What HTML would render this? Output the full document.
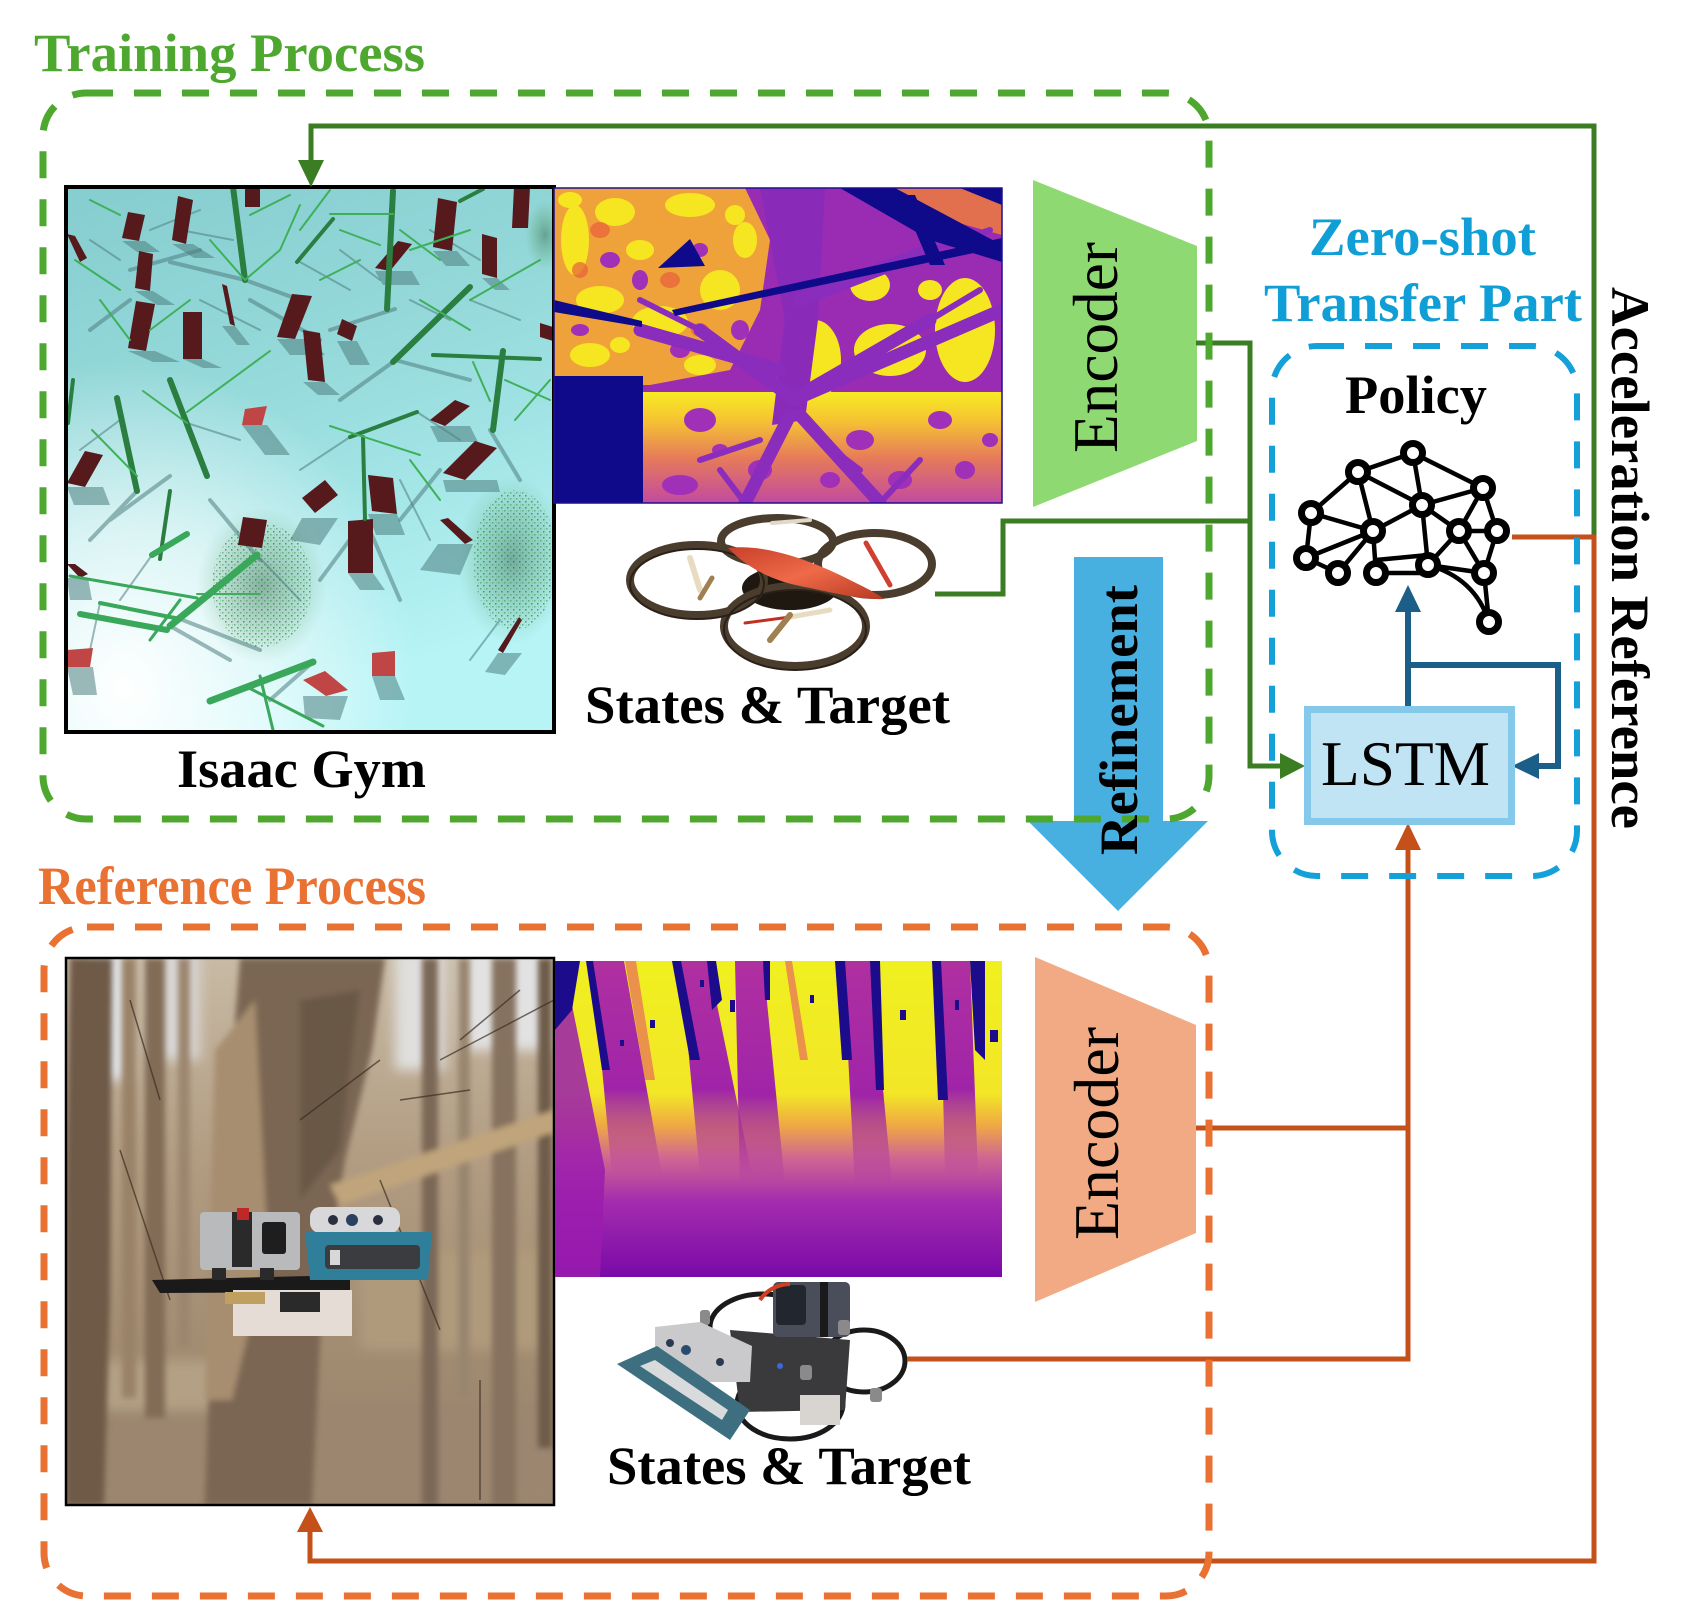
<!DOCTYPE html>
<html><head><meta charset="utf-8"><style>
html,body{margin:0;padding:0;background:#fff;}
svg{display:block;}
text{font-family:"Liberation Serif","Times New Roman",serif;}
</style></head><body>
<svg width="1698" height="1600" viewBox="0 0 1698 1600" xmlns="http://www.w3.org/2000/svg">
<defs>
  <linearGradient id="isaacG" x1="0" y1="0" x2="0.3" y2="1">
    <stop offset="0" stop-color="#86cdcf"/>
    <stop offset="0.45" stop-color="#96dadb"/>
    <stop offset="1" stop-color="#b6f4f6"/>
  </linearGradient>
  <radialGradient id="isaacW" cx="0.12" cy="0.92" r="0.6">
    <stop offset="0" stop-color="#ffffff" stop-opacity="1"/>
    <stop offset="0.5" stop-color="#ffffff" stop-opacity="0.6"/>
    <stop offset="1" stop-color="#ffffff" stop-opacity="0"/>
  </radialGradient>
  <radialGradient id="foli" cx="0.5" cy="0.5" r="0.5">
    <stop offset="0" stop-color="#3a6a50" stop-opacity="0.5"/>
    <stop offset="0.6" stop-color="#5aa070" stop-opacity="0.28"/>
    <stop offset="1" stop-color="#6ab080" stop-opacity="0"/>
  </radialGradient>
  <pattern id="speck" width="6" height="6" patternUnits="userSpaceOnUse">
    <rect x="0" y="0" width="1.5" height="1.5" fill="#2f8a48"/>
    <rect x="3" y="3" width="1.5" height="1.5" fill="#1f4a38"/>
    <rect x="4" y="0.5" width="1" height="1" fill="#4fb060"/>
  </pattern>
  <linearGradient id="d1band" x1="0" y1="0" x2="0" y2="1">
    <stop offset="0" stop-color="#f6ec22"/>
    <stop offset="0.25" stop-color="#f6c432"/>
    <stop offset="0.6" stop-color="#e67a5a"/>
    <stop offset="1" stop-color="#c24aa0"/>
  </linearGradient>
  <linearGradient id="d2base" x1="0" y1="0" x2="0" y2="1">
    <stop offset="0" stop-color="#f0f020"/>
    <stop offset="0.42" stop-color="#f2e626"/>
    <stop offset="0.52" stop-color="#f0a844"/>
    <stop offset="0.62" stop-color="#d06890"/>
    <stop offset="0.76" stop-color="#a42cae"/>
    <stop offset="1" stop-color="#7a0aa8"/>
  </linearGradient>
  <linearGradient id="d2trunk" x1="0" y1="0" x2="0" y2="1">
    <stop offset="0" stop-color="#b030a0"/>
    <stop offset="0.6" stop-color="#a024a8"/>
    <stop offset="1" stop-color="#9a1cae" stop-opacity="0"/>
  </linearGradient>
  <linearGradient id="forestG" x1="0" y1="0" x2="0" y2="1">
    <stop offset="0" stop-color="#c8baa4"/>
    <stop offset="0.4" stop-color="#b09a80"/>
    <stop offset="0.75" stop-color="#a08a70"/>
    <stop offset="1" stop-color="#988470"/>
  </linearGradient>
  <linearGradient id="hull" x1="0" y1="0" x2="1" y2="1">
    <stop offset="0" stop-color="#c8402a"/>
    <stop offset="0.5" stop-color="#ee6a48"/>
    <stop offset="1" stop-color="#b83a24"/>
  </linearGradient>
  <clipPath id="cIsaac"><rect x="66" y="187" width="488" height="545"/></clipPath>
  <clipPath id="cD1"><rect x="554" y="188" width="448" height="315"/></clipPath>
  <clipPath id="cD2"><rect x="555" y="961" width="447" height="316"/></clipPath>
  <clipPath id="cF"><rect x="66" y="958" width="488" height="547"/></clipPath>
  <filter id="bl2" x="-10%" y="-10%" width="120%" height="120%"><feGaussianBlur stdDeviation="3"/></filter>
  <filter id="bl4" x="-20%" y="-20%" width="140%" height="140%"><feGaussianBlur stdDeviation="6"/></filter>
</defs>

<!-- ============ ISAAC GYM IMAGE ============ -->
<g clip-path="url(#cIsaac)">
  <rect x="66" y="187" width="488" height="545" fill="url(#isaacG)"/>
  <rect x="66" y="187" width="488" height="545" fill="url(#isaacW)"/>
  <!-- foliage -->
  <ellipse cx="262" cy="585" rx="65" ry="78" fill="url(#foli)"/>
  <ellipse cx="262" cy="585" rx="50" ry="62" fill="url(#speck)" opacity="0.55"/>
  <ellipse cx="512" cy="560" rx="55" ry="85" fill="url(#foli)"/>
  <ellipse cx="515" cy="560" rx="42" ry="70" fill="url(#speck)" opacity="0.55"/>
  <ellipse cx="545" cy="235" rx="20" ry="35" fill="url(#foli)"/>
  <!-- shadows -->
  <g stroke="#4f7e80" stroke-opacity="0.55" stroke-linecap="round" fill="none">
    <path d="M245 280 L170 262 M245 280 L300 300 M200 250 L130 270 M395 309 L330 330 M393 362 L340 400 M395 360 L470 380 M170 476 L110 520 M137 491 L90 540 M210 500 L260 560 M365 519 L320 580 M365 519 L400 600 M170 626 L230 660 M180 619 L260 650 M313 662 L270 700 M490 430 L520 480 M440 470 L400 520 M250 300 L320 340 M130 300 L90 330" stroke-width="4"/>
    <path d="M233 240 L180 230 M300 262 L350 290 M410 300 L450 320 M470 300 L520 320 M120 420 L80 450 M187 423 L240 440 M350 437 L300 470 M417 412 L460 440 M152 555 L120 600 M257 555 L300 600 M100 603 L90 650 M400 480 L430 540 M500 620 L470 660 M120 260 L90 240 M200 300 L260 330 M340 250 L380 280 M430 230 L480 260 M150 230 L200 210" stroke-width="2"/>
  </g>
  <!-- red blocks with shadows -->
  <g fill="#4f7f80" fill-opacity="0.55">
    <polygon points="172,244 193,244 215,258 194,258"/>
    <polygon points="122,241 145,241 160,252 137,252"/>
    <polygon points="135,291 153,291 175,305 157,305"/>
    <polygon points="128,351 155,351 180,362 153,362"/>
    <polygon points="183,359 202,359 222,368 203,368"/>
    <polygon points="222,326 235,326 250,345 237,345"/>
    <polygon points="277,339 312,339 325,355 290,355"/>
    <polygon points="303,382 325,382 340,395 318,395"/>
    <polygon points="337,341 357,341 370,365 350,365"/>
    <polygon points="433,251 457,251 470,266 446,266"/>
    <polygon points="482,278 497,278 510,290 495,290"/>
    <polygon points="375,271 412,271 420,285 383,285"/>
    <polygon points="430,426 470,426 478,442 438,442"/>
    <polygon points="443,480 497,480 500,492 446,492"/>
    <polygon points="67,487 103,487 110,505 74,505"/>
    <polygon points="242,425 267,425 290,455 265,455"/>
    <polygon points="302,518 338,518 320,545 290,540"/>
    <polygon points="368,514 397,514 405,535 376,535"/>
    <polygon points="348,573 373,573 385,590 360,590"/>
    <polygon points="438,544 473,544 460,575 420,570"/>
    <polygon points="67,578 88,578 92,600 70,600"/>
    <polygon points="67,667 93,667 97,695 73,695"/>
    <polygon points="303,696 348,696 340,720 305,718"/>
    <polygon points="372,676 395,676 405,700 380,700"/>
    <polygon points="498,653 522,653 505,675 485,672"/>
  </g>
  <g fill="#561a1c">
    <polygon points="178,196 193,200 186,244 172,240"/>
    <polygon points="128,212 145,215 139,241 122,238"/>
    <polygon points="139,251 153,254 150,291 135,288"/>
    <polygon points="136,301 155,304 146,351 128,348"/>
    <polygon points="183,312 202,312 202,359 183,359"/>
    <polygon points="222,284 227,286 235,326 230,324"/>
    <polygon points="292,294 312,296 295,339 277,337"/>
    <polygon points="303,330 320,333 325,382 308,380"/>
    <polygon points="342,319 357,326 352,341 337,334"/>
    <polygon points="245,187 260,187 260,207 245,207"/>
    <polygon points="438,198 457,202 452,251 433,247"/>
    <polygon points="482,234 497,238 497,278 482,274"/>
    <polygon points="514,187 530,187 528,228 512,228"/>
    <polygon points="398,241 412,244 390,271 375,268"/>
    <polygon points="455,400 470,406 445,426 430,420"/>
    <polygon points="475,441 497,448 465,480 443,473"/>
    <polygon points="85,451 103,455 85,487 67,483"/>
    <polygon points="302,498 325,480 338,495 315,513"/>
    <polygon points="368,475 393,478 397,514 372,511"/>
    <polygon points="348,521 373,519 373,573 348,573"/>
    <polygon points="243,517 267,520 262,548 238,545"/>
    <polygon points="440,520 448,518 473,540 465,544"/>
    <polygon points="67,564 75,564 88,574 80,578"/>
    <polygon points="519,617 522,620 503,653 498,650"/>
    <polygon points="540,323 553,327 553,341 540,337"/>
    <polygon points="67,234 75,236 87,258 80,262"/>
  </g>
  <g fill="#c04646">
    <polygon points="245,409 267,406 262,425 242,425"/>
    <polygon points="67,650 93,648 90,667 67,667"/>
    <polygon points="303,680 325,671 348,690 326,696"/>
    <polygon points="372,653 395,651 395,676 372,676"/>
  </g>
  <!-- green branches -->
  <g stroke="#2a7e40" stroke-linecap="round" fill="none">
    <path d="M233 187 L245 280 M393 191 L387 309 M170 380 L207 476 M117 398 L137 491 M503 351 L493 430 M393 362 L470 287" stroke-width="6"/>
    <path d="M297 262 L333 219 M350 437 L417 412 M363 437 L365 519 M73 380 L68 423 M460 201 L483 189 M433 355 L540 359 M160 559 L170 491" stroke-width="4"/>
    <path d="M330 214 L393 214 M245 280 L210 240 M245 280 L280 250 M280 250 L300 205 M340 230 L380 245 M400 230 L440 260 M410 250 L470 230 M143 391 L187 423 M187 412 L270 351 M92 430 L137 476 M330 426 L420 455 M197 594 L260 594 M473 362 L490 401 M505 380 L550 400 M470 300 L540 260 M420 300 L470 330 M300 230 L330 190 M90 200 L120 215 M75 260 L120 290 M515 420 L550 380 M410 460 L440 500 M250 215 L290 195 M320 280 L360 260 M150 330 L190 300 M100 300 L130 340" stroke-width="2" stroke="#3fb05a"/>
  </g>
  <g stroke="#3aa85a" stroke-linecap="round" fill="none">
    <path d="M170 626 L257 555 M210 701 L313 662" stroke-width="7"/>
    <path d="M152 555 L187 534 M80 614 L167 630" stroke-width="6"/>
    <path d="M100 603 L180 619" stroke-width="4"/>
    <path d="M70 576 L197 598 M247 687 L323 726 M260 676 L273 730 M150 640 L180 600" stroke-width="3"/>
  </g>
</g>
<rect x="66" y="187" width="488" height="545" fill="none" stroke="#000" stroke-width="4"/>

<!-- ============ DEPTH IMAGE 1 ============ -->
<g clip-path="url(#cD1)">
  <rect x="554" y="188" width="448" height="315" fill="#9a2cb4"/>
  <polygon points="554,188 745,188 770,240 760,310 730,370 650,385 554,385" fill="#f0a23a"/>
  <g fill="#f6e622">
    <ellipse cx="575" cy="240" rx="14" ry="35"/>
    <ellipse cx="615" cy="212" rx="20" ry="14"/>
    <ellipse cx="690" cy="205" rx="25" ry="12"/>
    <ellipse cx="600" cy="300" rx="24" ry="14"/>
    <ellipse cx="660" cy="322" rx="28" ry="16"/>
    <ellipse cx="720" cy="290" rx="20" ry="20"/>
    <ellipse cx="590" cy="355" rx="20" ry="12"/>
    <ellipse cx="700" cy="365" rx="16" ry="10"/>
    <ellipse cx="640" cy="250" rx="14" ry="10"/>
    <ellipse cx="570" cy="200" rx="12" ry="8"/>
    <ellipse cx="735" cy="215" rx="10" ry="10"/>
    <ellipse cx="620" cy="345" rx="10" ry="8"/>
    <ellipse cx="815" cy="360" rx="26" ry="40"/>
    <ellipse cx="890" cy="350" rx="36" ry="26"/>
    <ellipse cx="965" cy="330" rx="30" ry="52"/>
    <ellipse cx="870" cy="285" rx="20" ry="16"/>
    <ellipse cx="745" cy="240" rx="12" ry="18"/>
    <ellipse cx="930" cy="290" rx="12" ry="10"/>
  </g>
  <g fill="#e8603c" opacity="0.7">
    <ellipse cx="600" cy="230" rx="10" ry="8"/><ellipse cx="670" cy="280" rx="10" ry="8"/>
    <ellipse cx="580" cy="270" rx="8" ry="8"/><ellipse cx="700" cy="330" rx="9" ry="7"/>
  </g>
  <polygon points="880,188 1002,188 1002,235 930,215" fill="#e2704e"/>
  <rect x="643" y="392" width="359" height="111" fill="url(#d1band)"/>
  <g fill="#a030b8">
    <ellipse cx="610" cy="260" rx="10" ry="8"/><ellipse cx="640" cy="280" rx="8" ry="10"/>
    <ellipse cx="700" cy="250" rx="8" ry="7"/><ellipse cx="580" cy="330" rx="9" ry="6"/>
    <ellipse cx="680" cy="350" rx="10" ry="8"/><ellipse cx="740" cy="330" rx="9" ry="10"/>
    <ellipse cx="700" cy="420" rx="16" ry="12"/><ellipse cx="760" cy="470" rx="12" ry="10"/>
    <ellipse cx="860" cy="440" rx="14" ry="10"/><ellipse cx="940" cy="420" rx="12" ry="9"/>
    <ellipse cx="965" cy="470" rx="10" ry="9"/><ellipse cx="680" cy="485" rx="18" ry="10"/>
    <ellipse cx="900" cy="480" rx="12" ry="9"/><ellipse cx="830" cy="480" rx="10" ry="8"/>
    <ellipse cx="720" cy="450" rx="8" ry="6"/><ellipse cx="990" cy="440" rx="8" ry="7"/>
  </g>
  <!-- purple tree -->
  <polygon points="760,188 825,188 818,320 805,420 772,425 785,320" fill="#8a2ab8"/>
  <g stroke="#8a2cbc" stroke-linecap="round" fill="none">
    <path d="M795 400 L700 330 M800 395 L930 320 M805 395 L1002 310 M790 415 L745 503 M800 415 L880 503 M780 370 L640 330 M800 300 L930 250" stroke-width="13"/>
    <path d="M700 330 L640 300 M930 320 L980 290 M745 503 L720 470 M880 503 L920 460 M820 440 L860 470 M760 440 L700 460 M930 250 L990 230" stroke-width="6"/>
  </g>
  <!-- navy -->
  <g fill="#0e0a8a">
    <rect x="554" y="376" width="89" height="127"/>
    <polygon points="658,268 690,239 705,266"/>
    <polygon points="554,300 642,321 642,327 554,312"/>
    <polygon points="672,310 1002,238 1002,247 675,316"/>
    <polygon points="840,188 895,188 1002,245 1002,262 930,240"/>
    <polygon points="900,195 915,195 945,265 930,265"/>
    <polygon points="960,188 1002,188 1002,205"/>
  </g>
</g>
<rect x="554" y="188" width="448" height="315" fill="none" stroke="#1e1090" stroke-width="1.5"/>

<!-- ============ DRONE 1 (AR drone) ============ -->
<g>
  <ellipse cx="790" cy="588" rx="48" ry="22" fill="#1e1810"/>
  <g fill="none" stroke="#4b3d2e" stroke-width="8">
    <ellipse cx="777" cy="541" rx="56" ry="23"/>
    <ellipse cx="697" cy="580" rx="67" ry="35"/>
    <ellipse cx="875" cy="564" rx="57" ry="31"/>
    <ellipse cx="795" cy="626" rx="71" ry="40"/>
  </g>
  <g fill="none" stroke="#2a2018" stroke-width="2">
    <ellipse cx="697" cy="584" rx="67" ry="35"/>
    <ellipse cx="795" cy="630" rx="71" ry="40"/>
  </g>
  <path d="M728 548 C760 544 800 556 840 575 C860 585 875 592 884 599 C860 600 830 592 800 586 C770 580 745 566 728 548 Z" fill="url(#hull)"/>
  <g stroke-linecap="round">
    <line x1="690" y1="558" x2="700" y2="590" stroke="#e8dcc0" stroke-width="6"/>
    <line x1="772" y1="523" x2="810" y2="520" stroke="#e0d8c8" stroke-width="4"/>
    <line x1="866" y1="543" x2="890" y2="585" stroke="#d04030" stroke-width="5"/>
    <line x1="745" y1="623" x2="790" y2="617" stroke="#c03020" stroke-width="3"/>
    <line x1="790" y1="617" x2="830" y2="610" stroke="#e8dcc0" stroke-width="5"/>
    <line x1="770" y1="640" x2="790" y2="615" stroke="#a08050" stroke-width="6"/>
    <line x1="700" y1="598" x2="712" y2="578" stroke="#a08050" stroke-width="5"/>
  </g>
</g>

<!-- ============ FOREST PHOTO ============ -->
<g clip-path="url(#cF)">
  <rect x="66" y="958" width="488" height="547" fill="url(#forestG)"/>
  <g filter="url(#bl4)">
    <rect x="85" y="950" width="45" height="130" fill="#dfe0e4"/>
    <rect x="150" y="950" width="50" height="110" fill="#d8d6d4"/>
    <rect x="395" y="950" width="50" height="120" fill="#e0dfde"/>
    <rect x="460" y="950" width="90" height="100" fill="#e2e2e2"/>
    <rect x="66" y="1400" width="488" height="105" fill="#9c8670"/>
    <rect x="80" y="1360" width="220" height="50" fill="#b4a084"/>
    <rect x="360" y="1250" width="190" height="100" fill="#b09a7c"/>
  </g>
  <g filter="url(#bl2)">
    <polygon points="70,958 112,958 110,1300 104,1505 66,1505 66,1200" fill="#6e5a46"/>
    <rect x="122" y="958" width="14" height="440" fill="#9a8268"/>
    <rect x="145" y="958" width="20" height="460" fill="#826c56"/>
    <rect x="178" y="958" width="12" height="390" fill="#9c8670"/>
    <polygon points="240,958 385,958 372,1050 345,1160 322,1300 312,1505 205,1505 210,1350 225,1150" fill="#7a6652"/>
    <polygon points="215,1050 255,1000 268,1250 232,1400 205,1400" fill="#a88e70"/>
    <polygon points="300,1000 360,990 340,1150 300,1200" fill="#6a5846"/>
    <rect x="422" y="958" width="16" height="547" fill="#7c6856"/>
    <rect x="458" y="958" width="12" height="440" fill="#9a8670"/>
    <rect x="492" y="958" width="24" height="547" fill="#86725e"/>
    <rect x="538" y="958" width="14" height="490" fill="#6e5c4a"/>
    <polygon points="330,1185 554,1110 554,1132 340,1205" fill="#c0a47c"/>
  </g>
  <g stroke="#3a2c22" stroke-width="1.5" fill="none" opacity="0.7">
    <path d="M440 1060 L554 1000 M460 1040 L520 990 M300 1120 L380 1060 M120 1150 L170 1300 M480 1380 L480 1500 M380 1180 L440 1330 M400 1100 L470 1090 M130 1000 L160 1100"/>
  </g>
  <!-- drone in photo -->
  <polygon points="152,1280 350,1275 350,1292 160,1293" fill="#1a1a1a"/>
  <rect x="200" y="1212" width="100" height="58" rx="4" fill="#b9babc"/>
  <rect x="232" y="1212" width="20" height="55" fill="#2a2a2a"/>
  <rect x="237" y="1208" width="12" height="12" fill="#c02828"/>
  <rect x="262" y="1222" width="24" height="32" rx="3" fill="#1e1e1e"/>
  <rect x="310" y="1207" width="90" height="26" rx="10" fill="#d8d8da"/>
  <circle cx="333" cy="1220" r="5" fill="#2a3040"/><circle cx="352" cy="1220" r="6" fill="#2a4060"/><circle cx="378" cy="1220" r="5" fill="#2a3040"/>
  <polygon points="305,1232 432,1232 428,1280 310,1280" fill="#2f7f9a"/>
  <rect x="325" y="1245" width="95" height="24" rx="4" fill="#3a3c40"/>
  <rect x="330" y="1250" width="10" height="15" fill="#d8d8d8"/>
  <rect x="233" y="1290" width="119" height="46" fill="#e6dcd6"/>
  <rect x="225" y="1292" width="40" height="12" fill="#c0a060"/>
  <rect x="280" y="1292" width="40" height="20" fill="#2a2a2a"/>
  <rect x="212" y="1268" width="14" height="12" fill="#2a2a2a"/>
  <rect x="260" y="1268" width="14" height="12" fill="#2a2a2a"/>
</g>
<rect x="66" y="958" width="488" height="547" fill="none" stroke="#000" stroke-width="2.5"/>

<!-- ============ DEPTH IMAGE 2 ============ -->
<g clip-path="url(#cD2)">
  <rect x="555" y="961" width="447" height="316" fill="url(#d2base)"/>
  <polygon points="555,990 568,985 605,1170 600,1277 555,1277" fill="#9a1cae" opacity="0.85"/>
  <g fill="url(#d2trunk)">
    <polygon points="592,961 624,961 662,1175 612,1175"/>
    <polygon points="680,961 708,961 752,1175 700,1175"/>
    <polygon points="735,961 763,961 785,1185 740,1185"/>
    <polygon points="843,961 871,961 892,1185 855,1185"/>
    <polygon points="940,961 970,961 978,1175 945,1175"/>
  </g>
  <g fill="#e87a56" opacity="0.8">
    <polygon points="625,961 636,961 655,1080 645,1080"/>
    <polygon points="785,961 792,961 808,1060 800,1060"/>
  </g>
  <g fill="#1c0c8c">
    <polygon points="555,961 580,961 572,1010 555,1030"/>
    <polygon points="586,961 593,961 610,1070 602,1070"/>
    <polygon points="672,961 681,961 700,1060 690,1060"/>
    <polygon points="707,961 716,961 722,1000 712,1010"/>
    <polygon points="763,961 770,961 770,1000 765,1000"/>
    <polygon points="835,961 845,961 852,1060 842,1060"/>
    <polygon points="870,961 880,961 884,1090 876,1090"/>
    <polygon points="932,961 941,961 948,1100 938,1100"/>
    <polygon points="970,961 985,961 985,1060 975,1050"/>
    <rect x="730" y="1000" width="5" height="12"/><rect x="900" y="1010" width="6" height="10"/>
    <rect x="650" y="1020" width="5" height="8"/><rect x="990" y="1030" width="8" height="12"/>
    <rect x="810" y="995" width="4" height="8"/><rect x="620" y="1040" width="4" height="6"/>
    <rect x="955" y="1000" width="4" height="10"/><rect x="700" y="980" width="4" height="7"/>
  </g>
</g>

<!-- ============ DRONE 2 ============ -->
<g>
  <g fill="none" stroke="#1a1a1a" stroke-width="5">
    <ellipse cx="763" cy="1327" rx="53" ry="33"/>
    <ellipse cx="864" cy="1361" rx="41" ry="31"/>
    <ellipse cx="790" cy="1404" rx="53" ry="35"/>
  </g>
  <polygon points="730,1330 850,1340 845,1410 740,1412" fill="#3a3a3c"/>
  <rect x="773" y="1282" width="77" height="55" rx="5" fill="#4a4e5a"/>
  <rect x="776" y="1285" width="30" height="40" rx="4" fill="#22262e"/>
  <rect x="820" y="1282" width="8" height="55" fill="#1a1a1a"/>
  <path d="M760 1300 Q770 1285 790 1284" stroke="#d04020" stroke-width="4" fill="none"/>
  <rect x="800" y="1395" width="40" height="30" fill="#d8d4d0"/>
  <g fill="#8a8a8a">
    <rect x="700" y="1310" width="10" height="15" rx="3"/><rect x="838" y="1320" width="12" height="15" rx="3"/>
    <rect x="870" y="1388" width="12" height="14" rx="3"/><rect x="800" y="1365" width="12" height="15" rx="3"/>
  </g>
  <circle cx="780" cy="1366" r="3" fill="#3a6ad8"/>
  <polygon points="655,1327 700,1322 752,1346 750,1382 700,1382 655,1360" fill="#cacacc"/>
  <circle cx="670" cy="1343" r="4" fill="#2a3a50"/><circle cx="686" cy="1350" r="5" fill="#2a4a70"/><circle cx="720" cy="1362" r="4" fill="#2a3a50"/>
  <polygon points="617,1364 657,1346 750,1410 730,1440" fill="#3e6f80"/>
  <polygon points="640,1366 655,1360 728,1410 722,1420" fill="#d8dadc"/>
</g>

<!-- ============ TEXT LABELS ============ -->
<text x="34" y="71" font-size="54" font-weight="bold" fill="#4ea72e" textLength="391" lengthAdjust="spacingAndGlyphs">Training Process</text>
<text x="177" y="787" font-size="54" font-weight="bold" fill="#000" textLength="249" lengthAdjust="spacingAndGlyphs">Isaac Gym</text>
<text x="585" y="723" font-size="54" font-weight="bold" fill="#000" textLength="365" lengthAdjust="spacingAndGlyphs">States &amp; Target</text>
<text x="38" y="904" font-size="54" font-weight="bold" fill="#e97132" textLength="388" lengthAdjust="spacingAndGlyphs">Reference Process</text>
<text x="607" y="1484" font-size="54" font-weight="bold" fill="#000" textLength="364" lengthAdjust="spacingAndGlyphs">States &amp; Target</text>
<text x="1309" y="255" font-size="54" font-weight="bold" fill="#0f9ed5" textLength="227" lengthAdjust="spacingAndGlyphs">Zero-shot</text>
<text x="1264" y="321" font-size="54" font-weight="bold" fill="#0f9ed5" textLength="318" lengthAdjust="spacingAndGlyphs">Transfer Part</text>
<text x="1345" y="413" font-size="54" font-weight="bold" fill="#000" textLength="142" lengthAdjust="spacingAndGlyphs">Policy</text>

<!-- ============ ENCODERS ============ -->
<polygon points="1033,180 1197,246 1197,441 1033,507" fill="#8fd973"/>
<text transform="translate(1117,347.5) rotate(-90)" text-anchor="middle" font-size="63" fill="#000" textLength="211" lengthAdjust="spacingAndGlyphs">Encoder</text>
<polygon points="1035,957 1196,1025 1196,1233 1035,1302" fill="#f2aa84"/>
<text transform="translate(1118,1133.5) rotate(-90)" text-anchor="middle" font-size="63" fill="#000" textLength="213" lengthAdjust="spacingAndGlyphs">Encoder</text>

<!-- ============ REFINEMENT ARROW ============ -->
<rect x="1074" y="557" width="89" height="265" fill="#48b0e0"/>
<polygon points="1028,821 1208,821 1118,911" fill="#48b0e0"/>

<!-- ============ CONNECTORS ============ -->
<g fill="none" stroke="#3b7d23" stroke-width="5">
  <path d="M1196 343 H1250 V766 H1282"/>
  <path d="M935 594 H1003 V521 H1250"/>
  <path d="M1594 540 V126 H311 V162"/>
</g>
<polygon points="1305,766 1280,753 1280,779" fill="#3b7d23"/>
<polygon points="311,187 298,160 324,160" fill="#3b7d23"/>

<g fill="none" stroke="#c4501a" stroke-width="5">
  <path d="M1512 537 H1594 V1561 H310 V1530"/>
  <path d="M1196 1128 H1408"/>
  <path d="M907 1359 H1408 V848"/>
</g>
<polygon points="310,1507 297,1532 323,1532" fill="#c4501a"/>
<polygon points="1408,823 1395,850 1421,850" fill="#c4501a"/>

<g fill="none" stroke="#1b5e87" stroke-width="6">
  <path d="M1408 706 V610"/>
  <path d="M1408 665 H1558 V766 H1537"/>
</g>
<polygon points="1408,585 1395,612 1421,612" fill="#1b5e87"/>
<polygon points="1512,766 1539,753 1539,779" fill="#1b5e87"/>

<!-- ============ LSTM ============ -->
<rect x="1307.5" y="709.5" width="204" height="112" fill="#c1e4f5" stroke="#84c9ea" stroke-width="7"/>
<text x="1321" y="785" font-size="63" fill="#000" textLength="169" lengthAdjust="spacingAndGlyphs">LSTM</text>

<!-- ============ BRAIN ICON ============ -->
<g stroke="#000" stroke-width="4.5" fill="none" stroke-linecap="round">
  <path d="M1413 453 L1358 472 M1413 453 L1422 505 M1413 453 L1483 488 M1358 472 L1311 513 M1358 472 L1373 531 M1358 472 L1422 505 M1422 505 L1373 531 M1422 505 L1483 488 M1422 505 L1459 531 M1422 505 L1428 565 M1311 513 L1373 531 M1311 513 L1306 558 M1373 531 L1306 558 M1373 531 L1338 573 M1373 531 L1376 573 M1483 488 L1459 531 M1483 488 L1497 531 M1459 531 L1497 531 M1459 531 L1428 565 M1459 531 L1484 573 M1497 531 L1484 573 M1306 558 L1338 573 M1376 560 L1428 555 M1376 573 L1428 573 M1428 565 L1484 573 M1484 573 L1489 622 M1428 565 Q1475 578 1489 622"/>
</g>
<g fill="#fff" stroke="#000" stroke-width="7">
  <circle cx="1413" cy="453" r="9.5"/><circle cx="1358" cy="472" r="9.5"/><circle cx="1483" cy="488" r="9.5"/>
  <circle cx="1422" cy="505" r="9.5"/><circle cx="1311" cy="513" r="9.5"/><circle cx="1373" cy="531" r="9.5"/>
  <circle cx="1459" cy="531" r="9.5"/><circle cx="1497" cy="531" r="9.5"/><circle cx="1306" cy="558" r="9.5"/>
  <circle cx="1338" cy="573" r="9.5"/><circle cx="1376" cy="573" r="9.5"/><circle cx="1428" cy="565" r="9.5"/>
  <circle cx="1484" cy="573" r="9.5"/><circle cx="1489" cy="622" r="9.5"/>
</g>

<!-- ============ DASHED BOXES ============ -->
<rect x="43" y="93" width="1166" height="726" rx="43" ry="43" fill="none" stroke="#4ea72e" stroke-width="7" stroke-dasharray="27 21"/>
<rect x="44" y="927" width="1165" height="669" rx="43" ry="43" fill="none" stroke="#e97132" stroke-width="7" stroke-dasharray="27 21"/>
<rect x="1272" y="346" width="305" height="530" rx="45" ry="45" fill="none" stroke="#14a0d8" stroke-width="6" stroke-dasharray="27 21"/>

<!-- rotated labels on top -->
<text transform="translate(1137,720) rotate(-90)" text-anchor="middle" font-size="54" font-weight="bold" fill="#000" textLength="270" lengthAdjust="spacingAndGlyphs">Refinement</text>
<text transform="translate(1612,558) rotate(90)" text-anchor="middle" font-size="54" font-weight="bold" fill="#000" textLength="542" lengthAdjust="spacingAndGlyphs">Acceleration Reference</text>
</svg>
</body></html>
